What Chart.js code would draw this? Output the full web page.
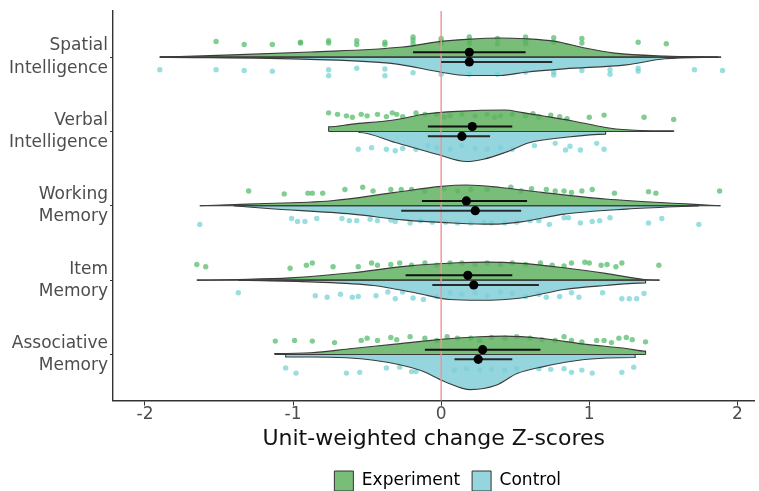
<!DOCTYPE html>
<html>
<head>
<meta charset="utf-8">
<script src="https://cdn.jsdelivr.net/npm/chart.js@4.4.1/dist/chart.umd.min.js"></script>
<style>
  html, body { margin: 0; padding: 0; background: #ffffff; }
  #wrap { width: 759px; height: 491px; position: relative; }
</style>
</head>
<body>
<div id="wrap"><canvas id="rain"></canvas></div>
<script>
// Categories (top to bottom) and axis ticks
const categories = [
  ['Spatial', 'Intelligence'],
  ['Verbal', 'Intelligence'],
  ['Working', 'Memory'],
  ['Item', 'Memory'],
  ['Associative', 'Memory']
];
const xTicks = [-2, -1, 0, 1, 2];
const refLineX = [0];

// Half-violin outlines: [z-score, half width in category units]
const expViolinSpatial = [[-1.90,0],[-1.51,0.023],[-0.88,0.068],[-0.26,0.135],[0,0.212],[0.17,0.239],[0.40,0.257],[0.57,0.247],[0.77,0.212],[0.97,0.122],[1.17,0.054],[1.51,0.014],[1.87,0]];
const ctlViolinSpatial = [[-1.90,0],[-0.88,0.031],[-0.31,0.091],[0,0.203],[0.17,0.247],[0.40,0.247],[0.57,0.203],[0.83,0.158],[1.25,0.104],[1.51,0.023],[1.89,0]];
const expViolinVerbal = [[-0.76,0],[-0.76,0.064],[-0.60,0.099],[-0.31,0.158],[-0.11,0.234],[0.11,0.270],[0.43,0.288],[0.54,0.257],[0.68,0.212],[0.88,0.145],[1.11,0.054],[1.25,0.023],[1.57,0.009],[1.57,0]];
const ctlViolinVerbal = [[-0.555,0],[-0.555,0.014],[-0.31,0.149],[-0.03,0.307],[0.17,0.405],[0.285,0.374],[0.43,0.284],[0.60,0.149],[0.83,0.081],[1.11,0.036],[1.11,0]];
const expViolinWorking = [[-1.63,0],[-1.31,0.023],[-0.74,0.068],[-0.31,0.180],[0,0.261],[0.17,0.280],[0.40,0.247],[0.68,0.180],[1.11,0.091],[1.68,0.023],[1.886,0]];
const ctlViolinWorking = [[-1.40,0],[-1.17,0.036],[-0.60,0.112],[-0.26,0.189],[0.11,0.234],[0.34,0.247],[0.54,0.216],[0.83,0.112],[1.25,0.045],[1.74,0]];
const expViolinItem = [[-1.65,0],[-1.37,0.009],[-1.02,0.031],[-0.60,0.099],[-0.23,0.189],[0.11,0.234],[0.31,0.243],[0.54,0.226],[0.83,0.166],[1.11,0.091],[1.37,0.009],[1.474,0]];
const ctlViolinItem = [[-1.37,0],[-0.88,0.023],[-0.455,0.072],[-0.17,0.172],[0.06,0.261],[0.256,0.270],[0.54,0.239],[0.83,0.126],[1.11,0.072],[1.38,0.036],[1.38,0]];
const expViolinAssoc = [[-1.124,0],[-1.124,0.014],[-0.88,0.023],[-0.60,0.081],[-0.31,0.139],[0,0.203],[0.256,0.239],[0.427,0.247],[0.683,0.216],[0.968,0.139],[1.252,0.081],[1.38,0.045],[1.38,0]];
const ctlViolinAssoc = [[-1.05,0],[-1.05,0.034],[-0.88,0.034],[-0.455,0.077],[-0.142,0.212],[0.029,0.369],[0.199,0.473],[0.370,0.415],[0.512,0.257],[0.683,0.166],[0.968,0.068],[1.31,0.041],[1.31,0]];

// Jittered raw scores: [z-score, vertical jitter in category units]
const expPtsSpatial = [[-1.52,-0.21],[-1.33,-0.17],[-1.14,-0.17],[-0.95,-0.19],[-0.95,-0.20],[-0.76,-0.22],[-0.76,-0.19],[-0.57,-0.22],[-0.57,-0.17],[-0.38,-0.20],[-0.38,-0.17],[-0.19,-0.27],[-0.19,-0.23],[-0.19,-0.18],[0,-0.25],[0,-0.21],[0,-0.18],[0.19,-0.27],[0.19,-0.22],[0.19,-0.18],[0.38,-0.25],[0.38,-0.18],[0.57,-0.27],[0.57,-0.22],[0.57,-0.18],[0.76,-0.26],[0.76,-0.20],[0.95,-0.25],[0.95,-0.19],[1.33,-0.20],[1.52,-0.18]];
const ctlPtsSpatial = [[-1.90,0.17],[-1.52,0.17],[-1.33,0.18],[-1.14,0.19],[-0.76,0.17],[-0.76,0.25],[-0.57,0.15],[-0.38,0.16],[-0.38,0.25],[-0.19,0.21],[0,0.23],[0.19,0.23],[0.38,0.23],[0.57,0.20],[0.76,0.20],[0.76,0.24],[0.95,0.18],[1.14,0.17],[1.14,0.23],[1.33,0.15],[1.33,0.19],[1.71,0.17],[1.90,0.18]];
const expPtsVerbal = [[-0.76,-0.25],[-0.70,-0.23],[-0.64,-0.21],[-0.60,-0.19],[-0.54,-0.23],[-0.50,-0.21],[-0.43,-0.23],[-0.37,-0.20],[-0.33,-0.25],[-0.30,-0.23],[-0.26,-0.20],[-0.17,-0.25],[-0.11,-0.23],[-0.03,-0.23],[0.02,-0.19],[0.06,-0.21],[0.14,-0.23],[0.23,-0.21],[0.31,-0.23],[0.36,-0.19],[0.40,-0.21],[0.48,-0.23],[0.57,-0.21],[0.62,-0.24],[0.66,-0.19],[0.74,-0.22],[0.80,-0.20],[0.85,-0.17],[1.00,-0.19],[1.10,-0.22],[1.37,-0.19],[1.57,-0.16]];
const ctlPtsVerbal = [[-0.56,0.24],[-0.47,0.22],[-0.37,0.24],[-0.31,0.26],[-0.26,0.23],[-0.17,0.24],[-0.09,0.19],[-0.03,0.22],[0.06,0.24],[0.14,0.19],[0.23,0.23],[0.31,0.24],[0.40,0.22],[0.48,0.24],[0.63,0.19],[0.77,0.16],[0.84,0.25],[0.87,0.20],[0.94,0.25],[1.05,0.16],[1.10,0.24]];
const expPtsWorking = [[-1.30,-0.20],[-1.06,-0.16],[-0.90,-0.17],[-0.87,-0.17],[-0.80,-0.17],[-0.65,-0.22],[-0.53,-0.25],[-0.46,-0.20],[-0.34,-0.22],[-0.27,-0.22],[-0.20,-0.22],[-0.11,-0.20],[0.02,-0.23],[0.11,-0.20],[0.20,-0.22],[0.31,-0.22],[0.47,-0.25],[0.54,-0.20],[0.61,-0.23],[0.71,-0.22],[0.77,-0.20],[0.83,-0.20],[0.88,-0.18],[0.95,-0.20],[1.02,-0.22],[1.17,-0.17],[1.40,-0.19],[1.45,-0.17],[1.88,-0.20]];
const ctlPtsWorking = [[-1.63,0.25],[-1.01,0.17],[-0.97,0.21],[-0.92,0.21],[-0.84,0.17],[-0.67,0.17],[-0.62,0.20],[-0.57,0.20],[-0.48,0.18],[-0.43,0.20],[-0.34,0.19],[-0.31,0.21],[-0.21,0.23],[-0.14,0.20],[-0.06,0.22],[0.03,0.22],[0.11,0.23],[0.20,0.23],[0.29,0.22],[0.34,0.23],[0.43,0.23],[0.51,0.22],[0.60,0.20],[0.66,0.20],[0.73,0.25],[0.83,0.16],[0.86,0.16],[0.94,0.23],[1.02,0.21],[1.07,0.20],[1.14,0.16],[1.40,0.23],[1.49,0.17],[1.74,0.25]];
const expPtsItem = [[-1.65,-0.21],[-1.59,-0.18],[-1.02,-0.16],[-0.91,-0.20],[-0.87,-0.23],[-0.73,-0.18],[-0.56,-0.18],[-0.47,-0.23],[-0.43,-0.20],[-0.34,-0.21],[-0.28,-0.23],[-0.20,-0.20],[-0.11,-0.23],[-0.03,-0.20],[0.06,-0.23],[0.14,-0.23],[0.23,-0.21],[0.31,-0.23],[0.40,-0.21],[0.48,-0.23],[0.57,-0.21],[0.67,-0.23],[0.75,-0.20],[0.83,-0.19],[0.88,-0.23],[0.97,-0.24],[1.00,-0.23],[1.08,-0.20],[1.12,-0.21],[1.18,-0.18],[1.22,-0.23],[1.47,-0.20]];
const ctlPtsItem = [[-1.37,0.17],[-0.85,0.21],[-0.77,0.23],[-0.68,0.19],[-0.60,0.23],[-0.56,0.22],[-0.44,0.21],[-0.36,0.16],[-0.31,0.25],[-0.26,0.16],[-0.19,0.24],[-0.12,0.26],[-0.03,0.22],[0.06,0.17],[0.14,0.19],[0.23,0.17],[0.31,0.21],[0.40,0.16],[0.48,0.18],[0.57,0.22],[0.66,0.19],[0.71,0.23],[0.80,0.22],[0.88,0.17],[0.93,0.23],[1.09,0.17],[1.22,0.25],[1.27,0.25],[1.32,0.25],[1.37,0.18]];
const expPtsAssoc = [[-1.12,-0.18],[-0.99,-0.19],[-0.87,-0.18],[-0.72,-0.16],[-0.54,-0.19],[-0.50,-0.22],[-0.43,-0.19],[-0.34,-0.23],[-0.30,-0.20],[-0.21,-0.24],[-0.11,-0.22],[-0.03,-0.19],[0.04,-0.24],[0.11,-0.22],[0.20,-0.22],[0.26,-0.19],[0.34,-0.23],[0.43,-0.22],[0.51,-0.24],[0.60,-0.22],[0.68,-0.20],[0.77,-0.19],[0.83,-0.24],[0.88,-0.19],[0.95,-0.17],[1.05,-0.19],[1.10,-0.19],[1.15,-0.16],[1.20,-0.22],[1.25,-0.23],[1.29,-0.20],[1.38,-0.17]];
const ctlPtsAssoc = [[-1.05,0.18],[-0.98,0.25],[-0.64,0.25],[-0.55,0.24],[-0.37,0.18],[-0.28,0.17],[-0.20,0.23],[-0.17,0.23],[0.09,0.21],[0.17,0.19],[0.26,0.21],[0.34,0.20],[0.43,0.21],[0.51,0.19],[0.66,0.19],[0.74,0.20],[0.83,0.19],[0.88,0.24],[0.95,0.21],[1.02,0.25],[1.22,0.24],[1.30,0.17]];

// Group means with interval bounds, one per category
const expMean = [0.19, 0.21, 0.17, 0.18, 0.28];
const expLow  = [-0.19, -0.09, -0.13, -0.24, -0.11];
const expHigh = [0.57, 0.48, 0.58, 0.48, 0.67];
const ctlMean = [0.19, 0.14, 0.23, 0.22, 0.25];
const ctlLow  = [0.00, -0.09, -0.27, -0.06, 0.09];
const ctlHigh = [0.75, 0.33, 0.54, 0.66, 0.48];

const expViolins = [expViolinSpatial, expViolinVerbal, expViolinWorking, expViolinItem, expViolinAssoc];
const ctlViolins = [ctlViolinSpatial, ctlViolinVerbal, ctlViolinWorking, ctlViolinItem, ctlViolinAssoc];
const expPoints = [expPtsSpatial, expPtsVerbal, expPtsWorking, expPtsItem, expPtsAssoc];
const ctlPoints = [ctlPtsSpatial, ctlPtsVerbal, ctlPtsWorking, ctlPtsItem, ctlPtsAssoc];

const FONT = "'DejaVu Sans', 'Liberation Sans', sans-serif";

// ggplot centres the legend a little right of the canvas middle
const legendShift = {
  id: 'legendShift',
  afterLayout: function(chart) {
    if (chart.legend) {
      chart.legend.left += 14;
      chart.legend.right += 14;
    }
  }
};

function renderRaincloud(canvasId) {
  const canvas = document.getElementById(canvasId);
  if (!canvas) return;

  const groups = [
    { name: 'Experiment', sign: -1, violins: expViolins, points: expPoints,
      mean: expMean, low: expLow, high: expHigh,
      fill: 'rgba(96, 178, 96, 0.85)', key: '#78be78', dot: 'rgba(88, 188, 110, 0.75)', bar: '#111111' },
    { name: 'Control', sign: 1, violins: ctlViolins, points: ctlPoints,
      mean: ctlMean, low: ctlLow, high: ctlHigh,
      fill: 'rgba(129, 206, 216, 0.85)', key: '#94d5de', dot: 'rgba(100, 204, 208, 0.65)', bar: '#2a2a2a' }
  ];
  const dodge = 0.065;
  const datasets = [];

  groups.forEach(function(g) {
    categories.forEach(function(cat, i) {
      // raw points (drawn underneath)
      datasets.push({
        type: 'scatter', order: 6,
        data: g.points[i].map(function(p) { return { x: p[0], y: i + p[1] }; }),
        backgroundColor: g.dot, borderWidth: 0, pointRadius: 2.7
      });
      // half violin
      const v = g.violins[i];
      datasets.push({
        type: 'line', order: 5,
        data: v.map(function(p) { return { x: p[0], y: i + g.sign * p[1] }; }),
        borderColor: '#3b3b3b', borderWidth: 1.1, backgroundColor: g.fill,
        fill: { value: i }, pointRadius: 0, cubicInterpolationMode: 'monotone'
      });
      // flat side of the violin
      datasets.push({
        type: 'line', order: 4,
        data: [{ x: v[0][0], y: i }, { x: v[v.length - 1][0], y: i }],
        borderColor: '#3b3b3b', borderWidth: 1.1, pointRadius: 0, fill: false
      });
      // interval bar
      datasets.push({
        type: 'line', order: 2,
        data: [{ x: g.low[i], y: i + g.sign * dodge }, { x: g.high[i], y: i + g.sign * dodge }],
        borderColor: g.bar, borderWidth: 2, pointRadius: 0, fill: false
      });
    });
    // means
    datasets.push({
      type: 'scatter', order: 1,
      data: g.mean.map(function(m, i) { return { x: m, y: i + g.sign * dodge }; }),
      backgroundColor: '#000000', borderWidth: 0, pointRadius: 4.6
    });
  });

  // zero reference line
  datasets.push({
    type: 'line', order: 3,
    data: [{ x: refLineX[0], y: -0.62 }, { x: refLineX[0], y: 4.62 }],
    borderColor: 'rgba(240, 150, 150, 0.75)', borderWidth: 1, pointRadius: 0, fill: false
  });

  new Chart(canvas.getContext('2d'), {
    type: 'scatter',
    data: { datasets: datasets },
    plugins: [legendShift],
    options: {
      responsive: true,
      maintainAspectRatio: false,
      animation: false,
      layout: { padding: { top: 11, right: 0, left: 0, bottom: -10 } },
      plugins: {
        tooltip: { enabled: false },
        legend: {
          position: 'bottom',
          fullSize: false,
          onClick: null,
          labels: {
            boxWidth: 19,
            boxHeight: 20,
            padding: 12,
            color: '#1a1a1a',
            font: { family: FONT, size: 17 },
            generateLabels: function() {
              return groups.map(function(g) {
                return { text: g.name, fillStyle: g.key, strokeStyle: '#333333', lineWidth: 1, hidden: false };
              });
            }
          }
        }
      },
      scales: {
        x: {
          type: 'linear',
          min: -2.216,
          max: 2.115,
          afterBuildTicks: function(scale) {
            scale.ticks = xTicks.map(function(v) { return { value: v }; });
          },
          afterFit: function(scale) { scale.paddingLeft = 0; scale.paddingRight = 0; },
          ticks: { color: '#4d4d4d', font: { family: FONT, size: 17, lineHeight: 1.0 }, padding: 0 },
          grid: { display: true, drawOnChartArea: false, drawTicks: true, tickLength: 5, color: '#333333' },
          border: { display: true, color: '#333333', width: 1.4 },
          title: {
            display: true,
            text: 'Unit-weighted change Z-scores',
            color: '#111111',
            font: { family: FONT, size: 22 },
            padding: { top: 3, bottom: 7 }
          }
        },
        y: {
          type: 'linear',
          reverse: true,
          min: -0.62,
          max: 4.62,
          afterBuildTicks: function(scale) {
            scale.ticks = categories.map(function(c, i) { return { value: i }; });
          },
          afterFit: function(scale) { scale.width = 113; scale.paddingTop = 0; scale.paddingBottom = 0; },
          ticks: {
            color: '#4d4d4d',
            font: { family: FONT, size: 17, lineHeight: 1.3 },
            padding: 2,
            callback: function(value) { return categories[value]; }
          },
          grid: { display: true, drawOnChartArea: false, drawTicks: true, tickLength: 3, color: '#333333' },
          border: { display: true, color: '#333333', width: 1.4 }
        }
      }
    }
  });
}

renderRaincloud('rain');
</script>
</body>
</html>
